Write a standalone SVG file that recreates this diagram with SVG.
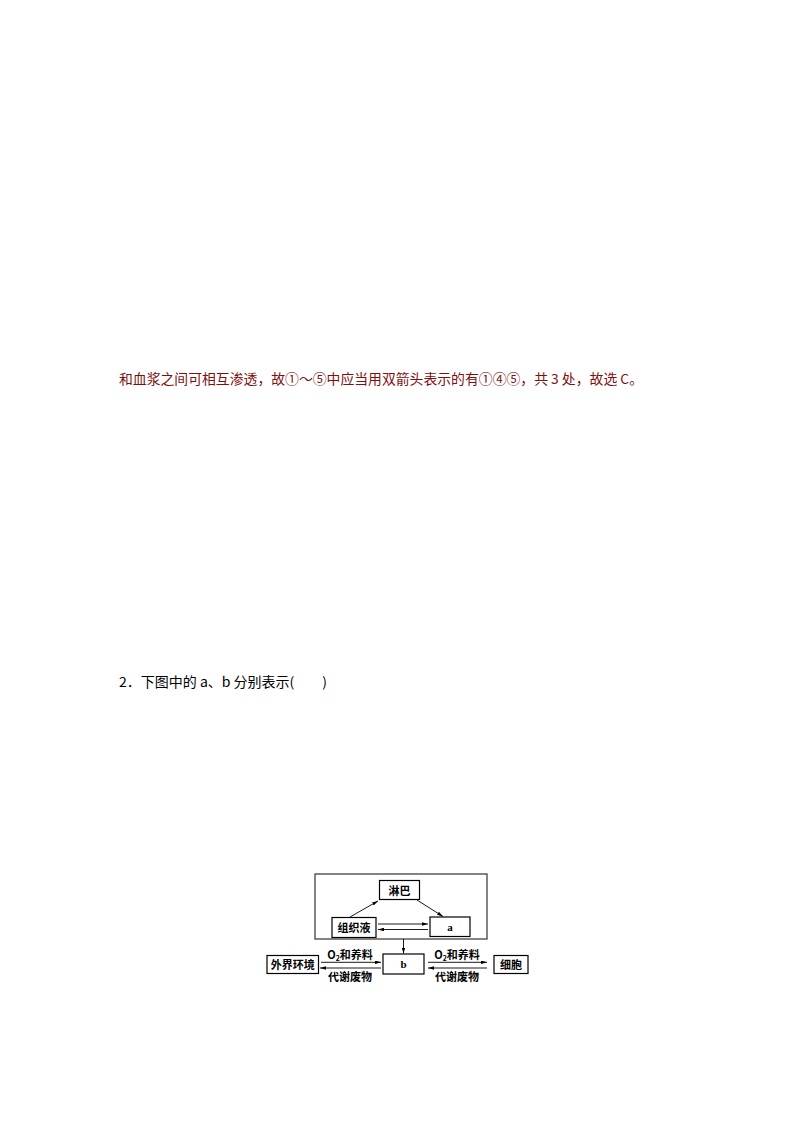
<svg xmlns="http://www.w3.org/2000/svg" width="794" height="1123" viewBox="0 0 794 1123">
<defs>
<style>
.t{font-family:"Noto Sans CJK SC","Liberation Sans",sans-serif;}
.red{fill:#7f1010;font-size:13.5px;}
.q{fill:#000;font-size:13.5px;}
.box{fill:#fff;stroke:#000;stroke-width:1.2;}
.lbl{font-family:"Liberation Serif","Noto Sans CJK SC",serif;font-size:11px;font-weight:bold;fill:#000;text-anchor:middle;}
.cn{font-family:"Noto Sans CJK SC",sans-serif;font-size:11px;font-weight:bold;fill:#000;text-anchor:middle;}
.ln{stroke:#000;stroke-width:0.9;fill:none;marker-end:url(#ah);}
</style>
<marker id="ah" viewBox="0 0 10 6" refX="10" refY="3" markerWidth="6" markerHeight="3.6" markerUnits="userSpaceOnUse" orient="auto">
<path d="M0,0 L10,3 L0,6 Z" fill="#000"/>
</marker>
</defs>
<rect width="794" height="1123" fill="#fff"/>
<text class="t red" x="119" y="384" textLength="524" lengthAdjust="spacingAndGlyphs">和血浆之间可相互渗透，故①～⑤中应当用双箭头表示的有①④⑤，共 3 处，故选 C。</text>
<text class="t q" x="119" y="687" textLength="208" lengthAdjust="spacingAndGlyphs">2．下图中的 a、b 分别表示(　　)</text>
<g id="outer"><rect x="315" y="874" width="172" height="65" fill="none" stroke="#333" stroke-width="1.2"/></g>
<g id="linba"><rect class="box" x="379.5" y="880.5" width="40" height="19"/><text class="cn" x="399.5" y="894.5">淋巴</text></g>
<g id="zuzhiye"><rect class="box" x="332" y="917.5" width="44" height="20"/><text class="cn" x="354" y="931.5">组织液</text></g>
<g id="a"><rect class="box" x="430" y="917" width="40" height="19.5"/><text class="lbl" x="450" y="930.5">a</text></g>
<g id="b"><rect class="box" x="383" y="954" width="41" height="20"/><text class="lbl" x="403.5" y="968">b</text></g>
<g id="waijie"><rect class="box" x="267" y="955.5" width="51.5" height="18"/><text class="cn" x="292.7" y="968.5">外界环境</text></g>
<g id="xibao"><rect class="box" x="494" y="955.5" width="34" height="18"/><text class="cn" x="511" y="968.5">细胞</text></g>
<g id="connectors">
<line class="ln" x1="350" y1="917" x2="378" y2="901"/>
<line class="ln" x1="417" y1="900" x2="443" y2="916.5"/>
<line class="ln" x1="378" y1="924" x2="428" y2="924"/>
<line class="ln" x1="428" y1="929.5" x2="378" y2="929.5"/>
<line class="ln" x1="403.5" y1="939" x2="403.5" y2="953.5"/>
<line class="ln" x1="321" y1="962.3" x2="381" y2="962.3"/>
<line class="ln" x1="381" y1="968" x2="320" y2="968"/>
<line class="ln" x1="428" y1="962.3" x2="487" y2="962.3"/>
<line class="ln" x1="487" y1="968" x2="428" y2="968"/>
</g>
<g id="labels">
<text class="cn" x="350" y="959">O<tspan font-size="7" dy="2">2</tspan><tspan dy="-2">和养料</tspan></text>
<text class="cn" x="350" y="981">代谢废物</text>
<text class="cn" x="457" y="959">O<tspan font-size="7" dy="2">2</tspan><tspan dy="-2">和养料</tspan></text>
<text class="cn" x="457" y="981">代谢废物</text>
</g>
</svg>
